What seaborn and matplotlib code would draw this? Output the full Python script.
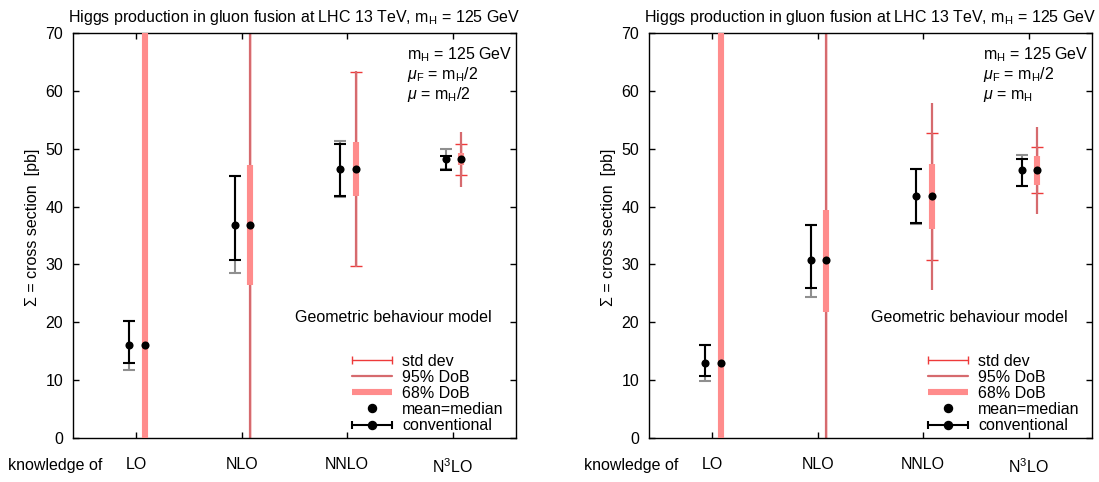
import numpy as np
import pandas as pd
import matplotlib
matplotlib.use("Agg")
import matplotlib.pyplot as plt
import matplotlib.transforms as mtransforms
import seaborn as sns
from matplotlib.lines import Line2D
from matplotlib.legend_handler import HandlerLine2D, HandlerTuple

# ---------------------------------------------------------------- data
orders = ["LO", "NLO", "NNLO", "N$^3$LO"]
order_pos = [1, 2, 3, 4]

# scale choice mu = m_H/2
conv_mid_half = [16.1, 36.9, 46.5, 48.2]
conv_low_half = [13.0, 30.7, 41.8, 46.3]
conv_high_half = [20.3, 45.3, 50.8, 48.7]
conv_wide_low_half = [11.8, 28.6, 41.6, 46.5]
conv_wide_high_half = [20.3, 45.3, 51.3, 50.0]
mean_half = [16.1, 36.9, 46.5, 48.2]
std_half = [60.0, 40.0, 16.8, 2.7]
dob68_low_half = [-35.0, 26.5, 41.9, 47.2]
dob68_high_half = [75.0, 47.2, 51.1, 49.2]
dob95_low_half = [-80.0, -20.0, 29.6, 43.4]
dob95_high_half = [120.0, 95.0, 63.4, 52.9]

# scale choice mu = m_H
conv_mid_full = [12.9, 30.7, 41.8, 46.3]
conv_low_full = [10.8, 25.9, 37.2, 43.6]
conv_high_full = [16.1, 36.9, 46.5, 48.2]
conv_wide_low_full = [9.9, 24.4, 37.0, 43.6]
conv_wide_high_full = [16.1, 36.9, 46.5, 48.9]
mean_full = [12.9, 30.7, 41.8, 46.3]
std_full = [60.0, 40.0, 10.95, 3.95]
dob68_low_full = [-35.0, 21.8, 36.2, 43.7]
dob68_high_full = [75.0, 39.4, 47.4, 48.7]
dob95_low_full = [-80.0, -20.0, 25.6, 38.7]
dob95_high_full = [120.0, 95.0, 58.0, 53.8]

panels = [
    dict(mu_label=r"$\mu$ = m$_\mathrm{H}$/2",
         conv_mid=conv_mid_half, conv_low=conv_low_half, conv_high=conv_high_half,
         wide_low=conv_wide_low_half, wide_high=conv_wide_high_half,
         mean=mean_half, std=std_half,
         d68_low=dob68_low_half, d68_high=dob68_high_half,
         d95_low=dob95_low_half, d95_high=dob95_high_half),
    dict(mu_label=r"$\mu$ = m$_\mathrm{H}$",
         conv_mid=conv_mid_full, conv_low=conv_low_full, conv_high=conv_high_full,
         wide_low=conv_wide_low_full, wide_high=conv_wide_high_full,
         mean=mean_full, std=std_full,
         d68_low=dob68_low_full, d68_high=dob68_high_full,
         d95_low=dob95_low_full, d95_high=dob95_high_full),
]

# ---------------------------------------------------------------- style
FS = 11.5
sns.set_theme(style="ticks")
plt.rcParams.update({
    "font.family": ["Liberation Sans", "DejaVu Sans"],
    "mathtext.fontset": "custom",
    "mathtext.rm": "Liberation Sans",
    "mathtext.it": "Liberation Sans:italic",
    "mathtext.bf": "Liberation Sans:bold",
    "font.size": FS,
    "text.color": "black",
    "axes.labelcolor": "black",
    "axes.linewidth": 1.0,
    "axes.edgecolor": "black",
    "xtick.direction": "in",
    "ytick.direction": "in",
    "xtick.top": True,
    "ytick.right": True,
    "xtick.major.size": 4,
    "ytick.major.size": 4,
    "xtick.major.width": 1.0,
    "ytick.major.width": 1.0,
    "xtick.color": "black",
    "ytick.color": "black",
    "xtick.labelcolor": "black",
    "ytick.labelcolor": "black",
    "legend.labelcolor": "black",
})

PINK = "#ff8c8c"
DARK_RED = "#d66a6e"
BRIGHT_RED = "#ee3a3a"
GREY = "#8f8f8f"

OFF_CONV = -0.065
OFF_DOB = 0.08
CAP = 4.5

fig = plt.figure(figsize=(10.99, 4.82), dpi=100)
axes = [fig.add_axes([0.0664, 0.0913, 0.403, 0.840]),
        fig.add_axes([0.5905, 0.0913, 0.403, 0.840])]

for ax, p in zip(axes, panels):
    pos = np.array(order_pos, dtype=float)
    xc = pos + OFF_CONV
    xd = pos + OFF_DOB
    mid = np.array(p["conv_mid"])
    mean = np.array(p["mean"])

    # conventional scale-variation bands
    ax.errorbar(xc, mid,
                yerr=[mid - np.array(p["wide_low"]), np.array(p["wide_high"]) - mid],
                fmt="none", ecolor=GREY, elinewidth=1.5, capsize=CAP, capthick=1.5, zorder=2)
    ax.errorbar(xc, mid,
                yerr=[mid - np.array(p["conv_low"]), np.array(p["conv_high"]) - mid],
                fmt="none", ecolor="black", elinewidth=1.5, capsize=CAP, capthick=1.5, zorder=3)

    # Bayesian model: std dev, 95% and 68% degree of belief
    ax.errorbar(xd, mean, yerr=np.array(p["std"]), fmt="none", ecolor=BRIGHT_RED,
                elinewidth=1.0, capsize=CAP, capthick=1.0, zorder=1.5)
    ax.vlines(xd, p["d95_low"], p["d95_high"], colors=DARK_RED, linewidth=1.6, zorder=2)
    ax.vlines(xd, p["d68_low"], p["d68_high"], colors=PINK, linewidth=4.4, zorder=3)

    dots = pd.DataFrame({"x": np.concatenate([xc, xd]),
                         "y": np.concatenate([mid, mean])})
    sns.scatterplot(data=dots, x="x", y="y", color="black", s=34, linewidth=0,
                    zorder=5, ax=ax)

    ax.set_xlim(0.4, 4.6)
    ax.set_ylim(0, 70)
    ax.set_yticks(range(0, 71, 10))
    ax.set_xticks(order_pos)
    ax.set_xticklabels(orders)
    ax.tick_params(axis="x", pad=14, labelsize=FS)
    ax.tick_params(axis="y", pad=7, labelsize=FS)
    ax.set_xlabel("")
    ax.set_ylabel("Σ = cross section  [pb]", fontsize=FS)
    ax.yaxis.set_label_coords(-0.074, 0.52)
    ax.set_title(r"Higgs production in gluon fusion at LHC 13 TeV, m$_\mathrm{H}$ = 125 GeV",
                 fontsize=FS, pad=8, color="black")

    ax.text(0.754, 0.936, r"m$_\mathrm{H}$ = 125 GeV", transform=ax.transAxes,
            fontsize=FS, va="baseline", ha="left")
    ax.text(0.754, 0.886, r"$\mu_\mathrm{F}$ = m$_\mathrm{H}$/2", transform=ax.transAxes,
            fontsize=FS, va="baseline", ha="left")
    ax.text(0.754, 0.837, p["mu_label"], transform=ax.transAxes,
            fontsize=FS, va="baseline", ha="left")
    ax.text(0.946, 0.286, "Geometric behaviour model", transform=ax.transAxes,
            fontsize=FS, va="baseline", ha="right")

    trans = mtransforms.blended_transform_factory(ax.transAxes, ax.transAxes)
    ax.text(-0.147, -0.067, "knowledge of", transform=trans, fontsize=FS,
            va="center", ha="left")

    # legend
    h_std = Line2D([], [], color=BRIGHT_RED, lw=1.0, marker="|", markersize=6,
                   markeredgewidth=1.0)
    h_95 = Line2D([], [], color=DARK_RED, lw=1.6)
    h_68 = Line2D([], [], color=PINK, lw=4.4, solid_capstyle="butt")
    h_mean = Line2D([], [], color="black", ls="none", marker="o", markersize=5.8)
    h_conv_bar = Line2D([], [], color="black", lw=1.5, marker="|", markersize=6,
                        markeredgewidth=1.5)
    h_conv_dot = Line2D([], [], color="black", ls="none", marker="o", markersize=5.8)
    ends = HandlerLine2D(numpoints=2, marker_pad=0)
    ax.legend([h_std, h_95, h_68, h_mean, (h_conv_bar, h_conv_dot)],
              ["std dev", "95% DoB", "68% DoB", "mean=median", "conventional"],
              handler_map={h_std: ends, h_conv_bar: ends, tuple: HandlerTuple(ndivide=1)},
              loc="lower left", bbox_to_anchor=(0.630, 0.012), borderpad=0,
              borderaxespad=0, handlelength=2.5, handletextpad=0.65,
              labelspacing=0.07, frameon=False, fontsize=FS, numpoints=1)

fig.savefig("out.png", dpi=100)
